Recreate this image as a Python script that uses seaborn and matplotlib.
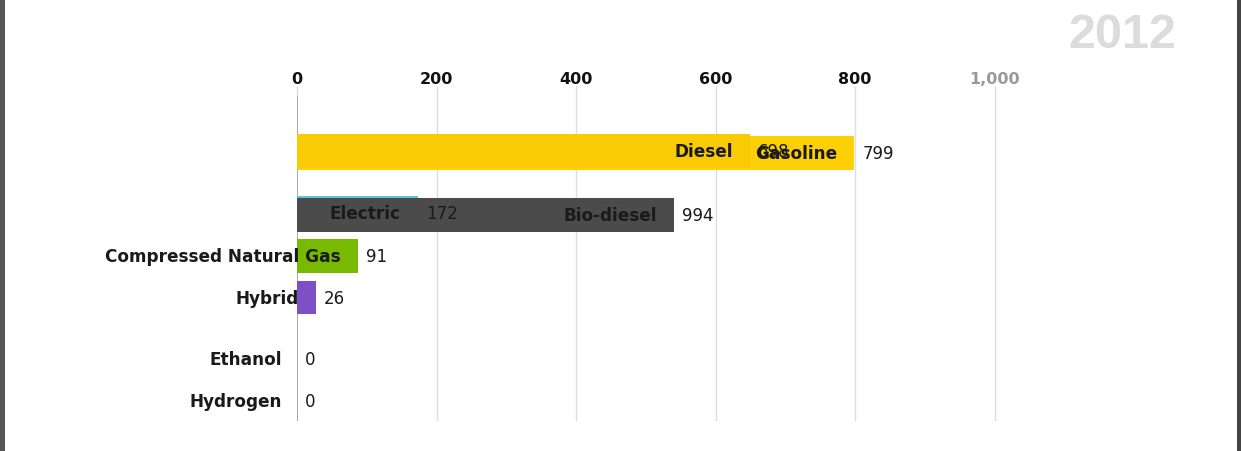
import matplotlib
matplotlib.use("Agg")
import matplotlib.pyplot as plt
import seaborn as sns
from matplotlib.patches import Rectangle

# ---- data (one frame of an animated bar chart race, year 2012) ----
categories = ["Electric", "Gasoline", "Diesel", "Bio-diesel",
              "Compressed Natural Gas", "Hybrid", "Ethanol", "Hydrogen"]
value_labels = [172, 799, 698, 994, 91, 26, 0, 0]      # numbers printed
bar_lengths = [173, 799, 649, 540, 87, 27, 0, 0]        # current (animated) bar lengths
row_positions = [1.45, 0.0, -0.05, 1.5, 2.5, 3.5, 5.0, 6.0]
bar_colors = ["#5cc6d0", "#fccf07", "#f8cb05", "#4b4b4b",
              "#78ba00", "#7e50c8", "#cccccc", "#cccccc"]
x_ticks = [0, 200, 400, 600, 800, 1000]
x_tick_labels = ["0", "200", "400", "600", "800", "1,000"]
year_label = "2012"

sns.set_theme(style="white")
plt.rcParams["font.family"] = ["DejaVu Sans"]

W, H = 1241, 452
fig = plt.figure(figsize=(W / 100, H / 100), dpi=100)
px_per_unit = 0.6975
xmax = 1010
left_px, top_px, bot_px = 297, 97, 422
right_px = left_px + xmax * px_per_unit
ax = fig.add_axes([left_px / W, 1 - bot_px / H, (right_px - left_px) / W, (bot_px - top_px) / H])

for cat, length, pos, col in zip(categories, bar_lengths, row_positions, bar_colors):
    if length <= 0:
        continue
    sns.barplot(x=[length], y=[pos], orient="h", native_scale=True,
                color=col, width=0.82, saturation=1, linewidth=0, ax=ax, zorder=3)

row_px = 41.3
ax.set_xlim(0, xmax)
ax.set_ylim((bot_px - 154) / row_px, -(154 - top_px) / row_px)

ax.set_xticks(x_ticks)
ax.set_xticklabels(x_tick_labels)
ax.xaxis.tick_top()
ax.tick_params(axis="x", which="both", top=True, bottom=False, length=7,
               color="#dddddd", width=1, pad=0, labelsize=11.5)
for lbl in ax.get_xticklabels():
    lbl.set_fontweight("bold")
    lbl.set_color("#111111")
ax.get_xticklabels()[-1].set_color("#999999")
ax.set_yticks([])
ax.set_xlabel("")
ax.set_ylabel("")
for s in ax.spines.values():
    s.set_visible(False)
for xv in x_ticks:
    ax.axvline(xv, color="#999999" if xv == 0 else "#dddddd", lw=1.2 if xv == 0 else 1, zorder=1)

# labels
for cat, val, length, pos in zip(categories, value_labels, bar_lengths, row_positions):
    off = -17 if length > 0 else -15
    ax.annotate(cat, xy=(length, pos), xytext=(off * 0.72, 0), textcoords="offset points",
                ha="right", va="center", fontsize=12.2, fontweight="bold",
                color="#1a1a1a", zorder=5, annotation_clip=False)
    ax.annotate(str(val), xy=(length, pos), xytext=(8 * 0.72, 0), textcoords="offset points",
                ha="left", va="center", fontsize=12, color="#1a1a1a", zorder=5,
                annotation_clip=False)

fig.text(1122 / W, 1 - 35 / H, year_label, ha="center", va="center", fontsize=35,
         fontweight="bold", color="#dcdcdc", family=["Liberation Sans", "DejaVu Sans"])

# frame edges
fig.patches.append(Rectangle((0, 0), 5 / W, 1, transform=fig.transFigure,
                             facecolor="#555555", edgecolor="none", zorder=10))
fig.patches.append(Rectangle((1237 / W, 0), 4 / W, 1, transform=fig.transFigure,
                             facecolor="#444444", edgecolor="none", zorder=10))

fig.savefig("out.png", dpi=100)
